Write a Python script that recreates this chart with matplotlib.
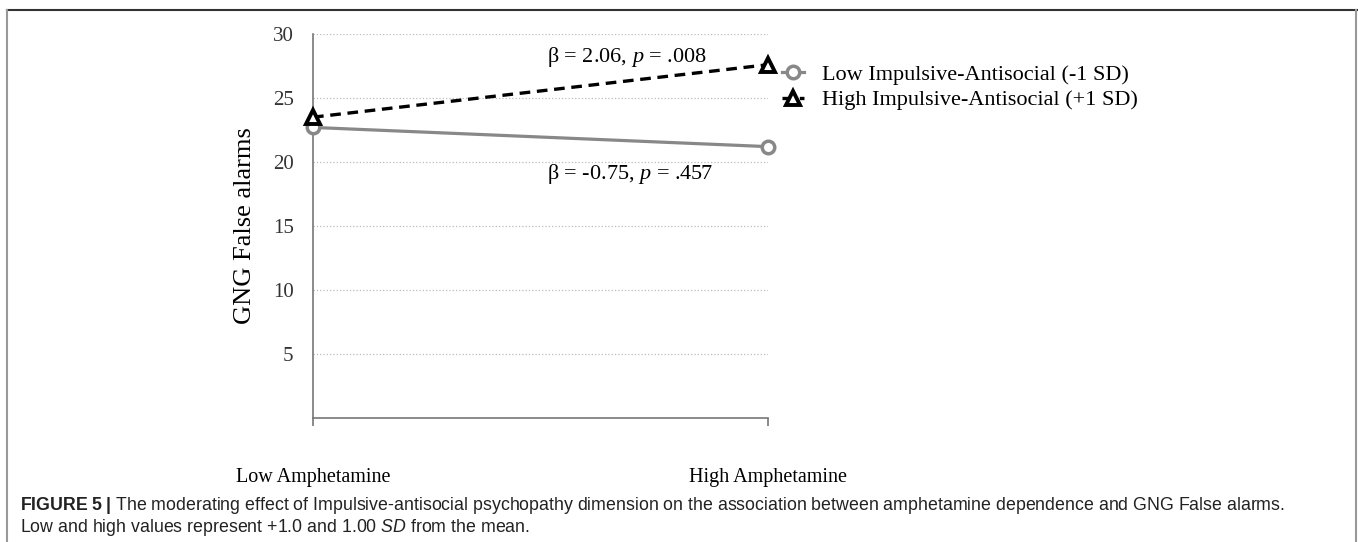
import matplotlib.pyplot as plt
from matplotlib.lines import Line2D

plt.rcParams['mathtext.fontset'] = 'custom'
plt.rcParams['mathtext.it'] = 'Liberation Serif:italic'
plt.rcParams['mathtext.rm'] = 'Liberation Serif'
plt.rcParams['mathtext.sf'] = 'Liberation Sans:italic'
plt.rcParams['mathtext.bf'] = 'Liberation Sans:bold'

# data
conditions = ['Low Amphetamine', 'High Amphetamine']
low_ia = [22.7, 21.2]     # Low Impulsive-Antisocial (-1 SD)
high_ia = [23.5, 27.6]    # High Impulsive-Antisocial (+1 SD)
y_ticks = [5, 10, 15, 20, 25, 30]
series_names = ['Low Impulsive-Antisocial (-1 SD)', 'High Impulsive-Antisocial (+1 SD)']
notes = [r'β = 2.06, $\mathit{p}$ = .008', r'β = -0.75, $\mathit{p}$ = .457']
note_pos = [(0.514, 28.2), (0.514, 19.1)]

serif = 'Liberation Serif'

fig = plt.figure(figsize=(13.58, 5.42), dpi=100)
ax = fig.add_axes([0.2305, 0.2288, 0.335, 0.7085])

x = range(len(conditions))
ax.plot(x, low_ia, color='#888888', lw=2.3, marker='o', ms=9,
        mfc='white', mec='#888888', mew=2.5, label=series_names[0], zorder=3, clip_on=False)
ax.plot(x, high_ia, color='black', lw=2.4, ls=(0, (3.2, 2.0)), marker='^', ms=10,
        mfc='white', mec='black', mew=2.8, label=series_names[1], zorder=4, clip_on=False)

ax.set_xlim(0, 1)
ax.set_ylim(0, 30)
ax.set_yticks(y_ticks)
ax.set_yticklabels([str(t) for t in y_ticks], fontfamily=serif, fontsize=15)
ax.set_xticks(list(x))
ax.set_xticklabels(conditions, fontfamily=serif, fontsize=14.5)
ax.tick_params(axis='y', length=0, pad=14, colors='#333333')
ax.tick_params(axis='x', length=6, width=1.2, color='#777777', pad=30)
ax.grid(axis='y', ls=':', color='#bbbbbb', lw=0.9)
for s in ['top', 'right']:
    ax.spines[s].set_visible(False)
for s in ['left', 'bottom']:
    ax.spines[s].set_color('#777777')
    ax.spines[s].set_linewidth(1.2)
ax.set_ylabel('GNG False alarms', fontfamily=serif, fontsize=19, labelpad=12)

for txt, (tx, ty) in zip(notes, note_pos):
    ax.text(tx, ty, txt, fontfamily=serif, fontsize=16, ha='left', va='center')

leg = fig.legend(loc='upper left', bbox_to_anchor=(0.561, 0.918), frameon=False,
                 handlelength=1.0, handletextpad=0.8, labelspacing=0.22,
                 prop={'family': serif, 'size': 16})

# border of the figure panel
fig.add_artist(Line2D([7 / 1358, 1357 / 1358], [1 - 10 / 542] * 2, color='#333333', lw=1.5))
fig.add_artist(Line2D([7 / 1358] * 2, [0, 1 - 10 / 542], color='#999999', lw=1.5))
fig.add_artist(Line2D([1356 / 1358] * 2, [0, 1 - 10 / 542], color='#999999', lw=1.5))

# caption
fig.text(20 / 1358, 1 - 505 / 542,
         r'$\mathbf{FIGURE\ 5\ |}$ The moderating effect of Impulsive-antisocial psychopathy '
         'dimension on the association between amphetamine dependence and GNG False alarms.',
         fontfamily='Liberation Sans', fontsize=12.8, color='#222222', va='center')
fig.text(20 / 1358, 1 - 527 / 542,
         r'Low and high values represent +1.0 and 1.00 $\mathsf{SD}$ from the mean.',
         fontfamily='Liberation Sans', fontsize=12.8, color='#222222', va='center')

fig.savefig('out.png', dpi=100)
